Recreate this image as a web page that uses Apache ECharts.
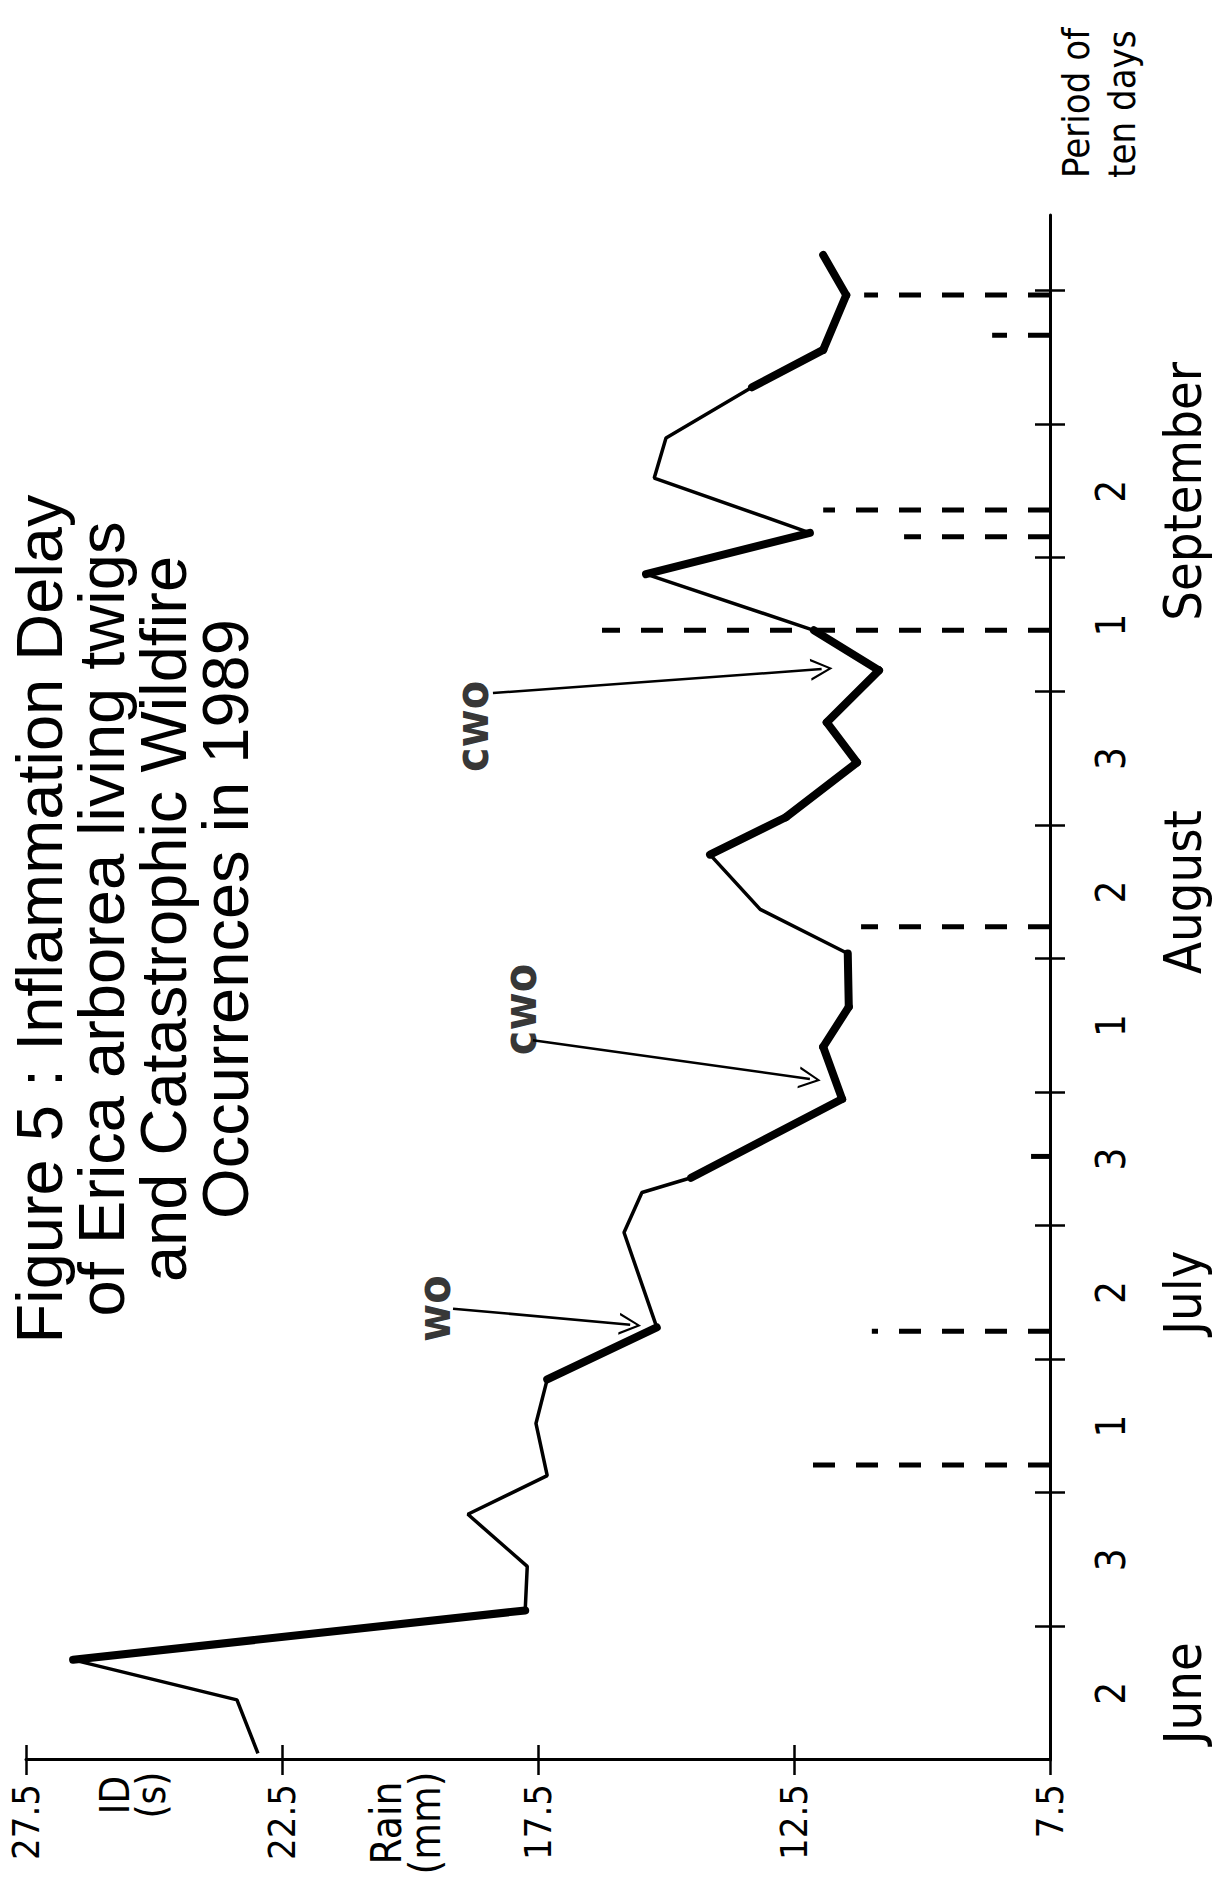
<!DOCTYPE html>
<html>
<head>
<meta charset="utf-8">
<script src="https://cdn.jsdelivr.net/npm/echarts@6/dist/echarts.min.js"></script>
<style>
  html, body { margin: 0; padding: 0; background: #fff; }
  body { width: 1214px; height: 1883px; overflow: hidden; position: relative; }
  /* the figure is printed sideways, so draw it landscape and turn it */
  #chart { position: absolute; left: 0; top: 1883px; width: 1883px; height: 1214px;
           transform-origin: 0 0; transform: rotate(-90deg); }
</style>
</head>
<body>
<div id="chart"></div>
<script>
// time axis: one unit = one period of ten days, 0 = start of June 2nd decade
const periodLabels = ['2', '3', '1', '2', '3', '1', '2', '3', '1', '2', '3']
const monthLabels = ['June', '', '', 'July', '', '', 'August', '', '', 'September', '']
const periodTicks = [1, 2, 3, 4, 5, 6, 7, 8, 9, 10, 11]
const idTicks = [7.5, 12.5, 17.5, 22.5, 27.5]

// inflammation delay (s)
const idPeriod = [0.05, 0.45, 0.75, 1.12, 1.45, 1.84, 2.13, 2.52, 2.85, 3.24, 3.95, 4.25, 4.36, 4.95, 5.34, 5.64,
  6.04, 6.37, 6.78, 7.06, 7.47, 7.77, 8.16, 8.46, 8.88, 9.19, 9.6, 9.9, 10.28, 10.56, 10.97, 11.27]
const idValue = [22.97, 23.38, 26.58, 17.75, 17.71, 18.87, 17.32, 17.54, 17.32, 15.18, 15.82, 15.47, 14.51, 11.56, 11.93, 11.43,
  11.45, 13.16, 14.14, 12.66, 11.27, 11.86, 10.84, 12.11, 15.39, 12.19, 15.23, 15.0, 13.32, 11.93, 11.48, 11.93]
// segments (start index) drawn with the heavy stroke
const thickSegments = [2, 8, 12, 13, 14, 15, 18, 19, 20, 21, 22, 24, 28, 29, 30]

// rain events, top of the dashed bar read on the same scale
const rainPeriod = [2.21, 3.21, 4.52, 6.24, 8.46, 9.16, 9.36, 10.67, 10.97]
const rainTop = [12.15, 10.98, 7.87, 11.19, 16.25, 10.35, 11.93, 8.63, 11.13]

// wildfire notes
const noteNames = ['wo', 'cwo', 'cwo']
const notePeriod = [3.38, 5.62, 7.74]
const noteValue = [19.53, 17.85, 18.79]
const arrowFrom = [[3.38, 19.16], [5.39, 17.6], [7.99, 18.38]]
const arrowTo = [[3.26, 15.7], [5.10, 12.19], [8.17, 11.96]]

const NARROW = '"Liberation Sans Narrow", "Arial Narrow", "DejaVu Sans Condensed", sans-serif'
const REGULAR = '"Liberation Sans", Arial, Helvetica, sans-serif'
const INK = '#000'

const chart = echarts.init(document.getElementById('chart'), null, { renderer: 'svg' })

const baseX = {
  type: 'value', min: 0, max: 11.57, position: 'bottom',
  splitLine: { show: false }
}
const baseY = {
  type: 'value', min: 7.5, max: 27.5, position: 'left',
  splitLine: { show: false }
}

const opt = {
  animation: false,
  backgroundColor: '#fff',
  grid: { left: 123, right: 215, top: 26, bottom: 164 },
  xAxis: [
    Object.assign({}, baseX, {
      axisLine: { show: true, onZero: false, lineStyle: { color: INK, width: 3 } },
      axisTick: { show: true, customValues: periodTicks, length: 15, lineStyle: { color: INK, width: 2.5 } },
      axisLabel: {
        show: true,
        customValues: periodLabels.map((_, i) => i + 0.5),
        margin: 36,
        formatter: v => {
          const i = Math.round(v - 0.5)
          let s = '{p|' + periodLabels[i] + '}'
          if (monthLabels[i]) s += '\n{m|' + monthLabels[i] + '}'
          return s
        },
        rich: {
          p: { fontFamily: NARROW, fontSize: 40, lineHeight: 50, color: INK },
          m: { fontFamily: NARROW, fontSize: 52, lineHeight: 94, color: INK }
        }
      }
    }),
    Object.assign({}, baseX, {
      axisLine: { show: false, onZero: false },
      axisTick: { show: true, inside: true, customValues: periodTicks, length: 15, lineStyle: { color: INK, width: 2.5 } },
      axisLabel: { show: false }
    })
  ],
  yAxis: [
    Object.assign({}, baseY, {
      axisLine: { show: true, onZero: false, lineStyle: { color: INK, width: 3 } },
      axisTick: { show: true, customValues: idTicks, length: 15, lineStyle: { color: INK, width: 2.5 } },
      axisLabel: {
        show: true, customValues: idTicks, margin: 24,
        formatter: v => v.toFixed(1),
        fontFamily: NARROW, fontSize: 38, color: INK
      }
    }),
    Object.assign({}, baseY, {
      axisLine: { show: false, onZero: false },
      axisTick: { show: true, inside: true, customValues: idTicks, length: 15, lineStyle: { color: INK, width: 2.5 } },
      axisLabel: { show: false }
    })
  ],
  series: [
    {
      // rain bars, dashed from the axis up
      type: 'custom',
      silent: true,
      data: rainPeriod.map((t, i) => [t, rainTop[i]]),
      renderItem: (params, api) => {
        const a = api.coord([api.value(0), 7.5])
        const b = api.coord([api.value(0), api.value(1)])
        return {
          type: 'line',
          shape: { x1: a[0], y1: a[1], x2: b[0], y2: b[1] },
          style: { stroke: INK, lineWidth: 5, lineDash: [22, 21], fill: null }
        }
      },
      z: 1
    },
    {
      type: 'line',
      silent: true,
      data: idPeriod.map((t, i) => [t, idValue[i]]),
      symbol: 'none',
      lineStyle: { color: INK, width: 3.5 },
      z: 3
    },
    {
      type: 'lines',
      coordinateSystem: 'cartesian2d',
      silent: true,
      data: thickSegments.map(i => ({ coords: [[idPeriod[i], idValue[i]], [idPeriod[i + 1], idValue[i + 1]]] })),
      lineStyle: { color: INK, width: 8, opacity: 1, cap: 'round' },
      z: 4
    },
    {
      // arrows to the wildfire dates
      type: 'lines',
      coordinateSystem: 'cartesian2d',
      silent: true,
      symbol: ['none', 'path://M0,22 L8,0 L16,22 L14.2,22 L8,4.5 L1.8,22 Z'],
      symbolSize: [16, 22],
      data: arrowFrom.map((p, i) => ({ coords: [p, arrowTo[i]] })),
      lineStyle: { color: INK, width: 2.5, opacity: 1 },
      z: 5
    },
    {
      type: 'scatter',
      silent: true,
      symbolSize: 1,
      itemStyle: { color: 'rgba(0,0,0,0)' },
      data: noteNames.map((n, i) => ({ name: n, value: [notePeriod[i], noteValue[i]] })),
      label: {
        show: true, position: 'inside', formatter: '{b}',
        fontFamily: NARROW, fontSize: 46, fontWeight: 'bold', color: INK
      },
      z: 6
    }
  ],
  graphic: [
    {
      type: 'text', x: 964, y: 8,
      style: {
        text: 'Figure 5 : Inflammation Delay\nof Erica arborea living twigs\nand Catastrophic Wildfire\nOccurrences in 1989',
        fill: INK, fontFamily: REGULAR, fontSize: 65, lineHeight: 62, align: 'center', verticalAlign: 'top'
      }
    },
    { type: 'text', x: 88, y: 115, style: { text: 'ID', fill: INK, fontFamily: NARROW, fontSize: 40, align: 'center', verticalAlign: 'middle' } },
    { type: 'text', x: 88, y: 151, style: { text: '(s)', fill: INK, fontFamily: NARROW, fontSize: 40, align: 'center', verticalAlign: 'middle' } },
    { type: 'text', x: 60, y: 386, style: { text: 'Rain', fill: INK, fontFamily: NARROW, fontSize: 42, align: 'center', verticalAlign: 'middle' } },
    { type: 'text', x: 60, y: 425, style: { text: '(mm)', fill: INK, fontFamily: NARROW, fontSize: 42, align: 'center', verticalAlign: 'middle' } },
    { type: 'text', x: 1705, y: 1076, style: { text: 'Period of', fill: INK, fontFamily: NARROW, fontSize: 38, align: 'left', verticalAlign: 'middle' } },
    { type: 'text', x: 1705, y: 1122, style: { text: 'ten days', fill: INK, fontFamily: NARROW, fontSize: 38, align: 'left', verticalAlign: 'middle' } }
  ]
}

chart.setOption(opt)
</script>
</body>
</html>
